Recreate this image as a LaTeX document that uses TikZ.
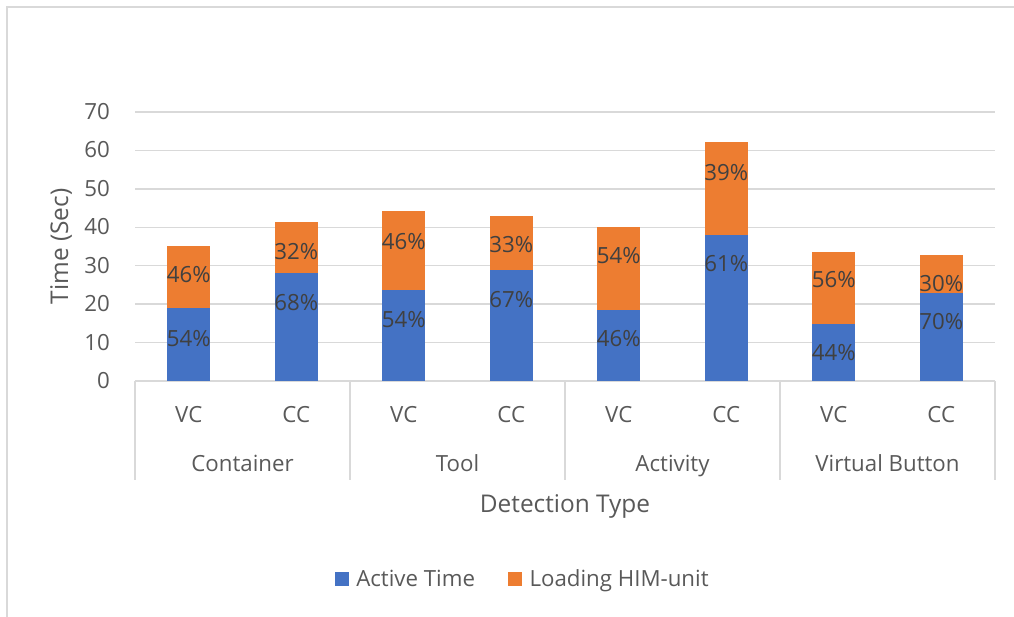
\documentclass[tikz,border=0pt]{standalone}
\usepackage{fontspec}
\setmainfont{Open Sans}
\definecolor{barblue}{HTML}{4472C4}
\definecolor{barorange}{HTML}{ED7D31}
\definecolor{gridgray}{HTML}{D9D9D9}
\definecolor{ticktext}{HTML}{595959}
\definecolor{datatext}{HTML}{404040}
\newcommand{\ticksize}{\fontsize{16.7}{20}\selectfont}
\newcommand{\titlesize}{\fontsize{18.3}{22}\selectfont}
\tikzset{
  gridline/.style={draw=gridgray, line width=1pt},
  framebox/.style={draw=gridgray, line width=1.1pt},
  ticklabel/.style={inner sep=0pt, text=ticktext, font=\ticksize},
  datalabel/.style={inner sep=0pt, text=datatext, font=\ticksize, anchor=base},
  axistitle/.style={inner sep=0pt, text=ticktext, font=\titlesize, anchor=base},
}
\begin{document}
\begin{tikzpicture}[x=0.75pt,y=-0.75pt]
\useasboundingbox (0,0) rectangle (1014,617);
% chart area frame
\draw[framebox] (7,617) -- (7,7) -- (1014,7);
% horizontal gridlines and value labels
\foreach \v in {1,...,7} {
  \draw[gridline] (135,{381-\v*38.43}) -- (995,{381-\v*38.43});
}
\foreach \v in {0,...,7} {
  \node[ticklabel, anchor=base east] (ytick\v) at (110,{381-\v*38.43+7.5}) {\the\numexpr\v*10\relax};
}
% category axis with group separators
\draw[gridline] (135,381) -- (995,381);
\foreach \x in {135,350,565,780,995} {
  \draw[gridline] (\x,381) -- (\x,480);
}
% stacked bars: centre / top of active time / top of loading
\foreach \c/\b/\t in {188.75/308.4/245.7, 296.25/273.0/222.3, 403.75/290.0/211.1,
                      511.25/270.0/216.1, 618.75/309.9/226.5, 726.25/235.0/142.4,
                      833.75/324.1/252.3, 941.25/293.0/254.6} {
  \fill[barblue] ({\c-21.5},381) rectangle ({\c+21.5},\b);
  \fill[barorange] ({\c-21.5},\b) rectangle ({\c+21.5},\t);
}
% percentage labels
\foreach \c/\y/\p [count=\i] in {188.75/339.3/54, 188.75/274.7/46, 296.25/302.8/68, 296.25/251.7/32,
                      403.75/319.5/54, 403.75/241.5/46, 511.25/299.5/67, 511.25/245.3/33,
                      618.75/338.8/46, 618.75/255.7/54, 726.25/264.0/61, 726.25/172.5/39,
                      833.75/352.8/44, 833.75/280.3/56, 941.25/322.2/70, 941.25/283.7/30} {
  \node[datalabel] (pct\i) at (\c,{\y+7.5}) {\p\%};
}
% sub-category labels
\foreach \c/\s [count=\i] in {188.75/VC, 296.25/CC, 403.75/VC, 511.25/CC,
                             618.75/VC, 726.25/CC, 833.75/VC, 941.25/CC} {
  \node[ticklabel, anchor=base] (sub\i) at (\c,422.5) {\s};
}
% group labels
\node[ticklabel, anchor=base] (grpContainer) at (242.5,471) {Container};
\node[ticklabel, anchor=base] (grpTool) at (457.5,471) {Tool};
\node[ticklabel, anchor=base] (grpActivity) at (672.5,471) {Activity};
\node[ticklabel, anchor=base] (grpButton) at (887.5,471) {Virtual Button};
% axis titles
\node[axistitle] (xtitle) at (565,512.5) {Detection Type};
\node[axistitle, rotate=90] (ytitle) at (68,246.5) {Time (Sec)};
% legend
\fill[barblue] (335,571.7) rectangle (349.3,586);
\node[ticklabel, anchor=base west] (legActive) at (356,586) {Active Time};
\fill[barorange] (508.3,571.7) rectangle (522.3,586);
\node[ticklabel, anchor=base west] (legLoading) at (529.3,586) {Loading HIM-unit};
\end{tikzpicture}
\end{document}
